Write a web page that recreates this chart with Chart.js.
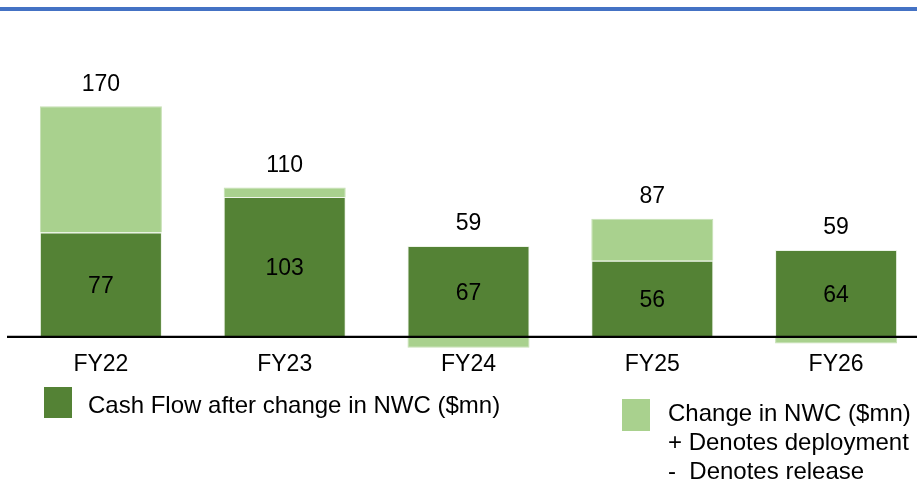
<!DOCTYPE html>
<html>
<head>
<meta charset="utf-8">
<script src="https://cdn.jsdelivr.net/npm/chart.js@4/dist/chart.umd.min.js"></script>
<style>
  html, body { margin: 0; padding: 0; background: #fff; overflow: hidden; width: 917px; height: 482px; }
  #topRule { position: absolute; left: 0; top: 7px; width: 917px; height: 4px; background: #4472c4; }
  #wrap { position: absolute; left: 0; top: 0; width: 935px; height: 400px; }
  .legend { position: absolute; font-family: "Liberation Sans", Arial, sans-serif; font-size: 24px; color: #000; line-height: 29px; white-space: nowrap; }
  .swatch { position: absolute; }
</style>
</head>
<body>
<div id="topRule"></div>
<div id="wrap"><canvas id="chart" width="935" height="400"></canvas></div>

<div class="swatch" style="left:44px; top:387px; width:28px; height:31px; background:#548235;"></div>
<div class="legend" style="left:88px; top:390px;">Cash Flow after change in NWC ($mn)</div>

<div class="swatch" style="left:622px; top:399px; width:28px; height:32px; background:#a9d18e;"></div>
<div class="legend" style="left:668px; top:398px;">Change in NWC ($mn)<br>+ Denotes deployment<br>-&nbsp; Denotes release</div>

<script>
// Fiscal years and the two stacked components ($mn)
const years = ['FY22', 'FY23', 'FY24', 'FY25', 'FY26'];
const cashFlow = [77, 103, 67, 56, 64];     // cash flow after change in NWC
const nwcChange = [93, 7, -8, 31, -5];      // change in NWC (+ deployment, - release)

const DARK = '#548235';
const LIGHT = '#a9d18e';
const FONT = '"Liberation Sans", Arial, sans-serif';

// Zero line plus the in-bar values and the totals above each stack
const labelsPlugin = {
  id: 'barLabels',
  afterDatasetsDraw(chart) {
    const { ctx, scales } = chart;
    const y0 = scales.y.getPixelForValue(0);
    ctx.save();
    ctx.strokeStyle = '#000';
    ctx.lineWidth = 2.2;
    ctx.beginPath();
    ctx.moveTo(7, y0);
    ctx.lineTo(chart.width, y0);
    ctx.stroke();

    const darkMeta = chart.getDatasetMeta(0);
    const lightMeta = chart.getDatasetMeta(1);
    ctx.fillStyle = '#000';
    ctx.font = '23px ' + FONT;
    ctx.textAlign = 'center';
    ctx.textBaseline = 'middle';
    years.forEach((_, i) => {
      const d = darkMeta.data[i];
      const l = lightMeta.data[i];
      ctx.fillText(String(cashFlow[i]), d.x, (d.y + d.base) / 2 + 2);
      let top = d.y;
      if (nwcChange[i] > 0) top = Math.min(top, l.y);
      ctx.fillText(String(cashFlow[i] + nwcChange[i]), d.x, top - 22);
    });
    ctx.restore();
  }
};

new Chart(document.getElementById('chart'), {
  type: 'bar',
  data: {
    labels: years,
    datasets: [
      {
        label: 'Cash Flow after change in NWC ($mn)',
        data: cashFlow,
        backgroundColor: DARK,
        borderColor: 'rgba(235,243,230,0.9)',
        borderWidth: 1,
        categoryPercentage: 0.664,
        barPercentage: 1
      },
      {
        label: 'Change in NWC ($mn)',
        data: nwcChange,
        backgroundColor: LIGHT,
        borderColor: '#c6e0b4',
        borderWidth: 1,
        categoryPercentage: 0.664,
        barPercentage: 1
      }
    ]
  },
  options: {
    responsive: false,
    animation: false,
    layout: { padding: { left: 9, right: 7, top: 16, bottom: 22 } },
    plugins: { legend: { display: false }, tooltip: { enabled: false } },
    scales: {
      x: {
        stacked: true,
        grid: { display: false, drawTicks: false },
        border: { display: false },
        ticks: { color: '#000', font: { family: FONT, size: 23 }, padding: 0 }
      },
      y: {
        stacked: true,
        display: false,
        min: -10,
        max: 236.5
      }
    }
  },
  plugins: [labelsPlugin]
});
</script>
</body>
</html>
